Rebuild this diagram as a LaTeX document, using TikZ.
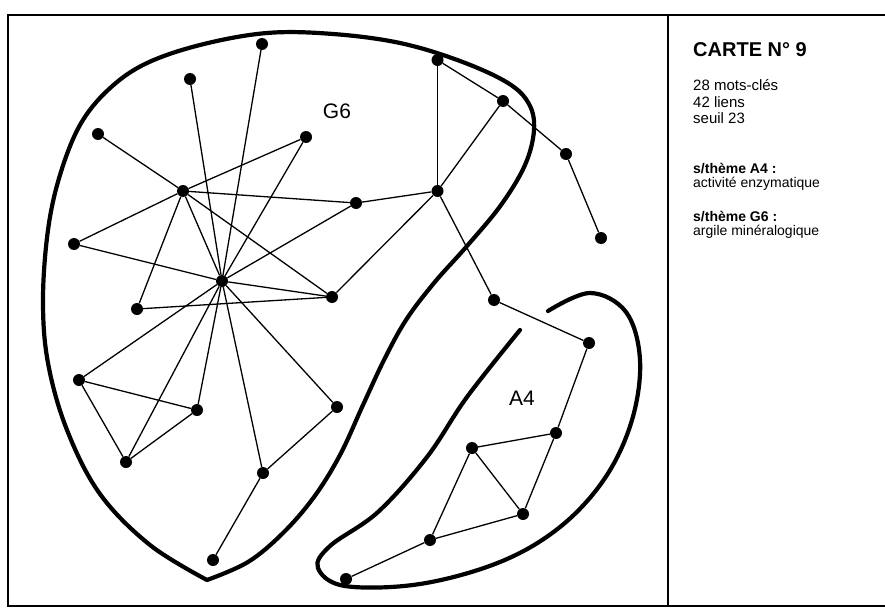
\documentclass[tikz,border=0pt]{standalone}
\usepackage{fontspec}
\setmainfont{Liberation Sans}
\usetikzlibrary{positioning}

\begin{document}
\begin{tikzpicture}[x=1pt, y=-1pt,
  dot/.style={circle, fill=black, inner sep=0pt, minimum size=12pt},
  lien/.style={line width=1.3pt},
  contour/.style={line width=4.2pt, line cap=round, line join=round},
  groupe/.style={font=\fontsize{21}{21}\selectfont},
  ligne/.style={anchor=base west, inner sep=0pt, font=\fontsize{15}{17}\selectfont},
  theme/.style={anchor=base west, inner sep=0pt, font=\fontsize{14}{14}\selectfont}]
  \useasboundingbox (0,0) rectangle (885,607);

  % cadre
  \draw[line width=1.2pt] (885,15) -- (8,15) -- (8,606) -- (885,606);
  \draw[line width=1.2pt] (668,15) -- (668,606);

  % mots-cles
  \node[dot] (hA)  at (183,191) {};
  \node[dot] (hB)  at (222,281) {};
  \node[dot] (n1)  at (262,44)  {};
  \node[dot] (n2)  at (190,79)  {};
  \node[dot] (n3)  at (98,134)  {};
  \node[dot] (n4)  at (306,137) {};
  \node[dot] (n5)  at (356,203) {};
  \node[dot] (n6)  at (437.5,191) {};
  \node[dot] (n7)  at (437.5,60)  {};
  \node[dot] (n8)  at (74,244)  {};
  \node[dot] (n9)  at (332,297) {};
  \node[dot] (n10) at (137,309) {};
  \node[dot] (n11) at (79,380)  {};
  \node[dot] (n12) at (197,410) {};
  \node[dot] (n13) at (337,407) {};
  \node[dot] (n14) at (126,462) {};
  \node[dot] (n15) at (263,473) {};
  \node[dot] (n16) at (213,560) {};
  \node[dot] (n17) at (503,101) {};
  \node[dot] (n18) at (566,154) {};
  \node[dot] (n19) at (601,238) {};
  \node[dot] (n20) at (494,300) {};
  \node[dot] (n21) at (589,343) {};
  \node[dot] (n22) at (556,433) {};
  \node[dot] (n23) at (472,448) {};
  \node[dot] (n24) at (523,514) {};
  \node[dot] (n25) at (430,540) {};
  \node[dot] (n26) at (346,579) {};

  % liens
  \draw[lien] (hA) -- (n3);
  \draw[lien] (hA) -- (n4);
  \draw[lien] (hA) -- (n5);
  \draw[lien] (hA) -- (n8);
  \draw[lien] (hA) -- (n10);
  \draw[lien] (hA) -- (n9);
  \draw[lien] (hA) -- (hB);
  \draw[lien] (hB) -- (n1);
  \draw[lien] (hB) -- (n2);
  \draw[lien] (hB) -- (n4);
  \draw[lien] (hB) -- (n5);
  \draw[lien] (hB) -- (n8);
  \draw[lien] (hB) -- (n9);
  \draw[lien] (hB) -- (n11);
  \draw[lien] (hB) -- (n12);
  \draw[lien] (hB) -- (n13);
  \draw[lien] (hB) -- (n14);
  \draw[lien] (hB) -- (n15);
  \draw[lien] (n10) -- (n9);
  \draw[lien] (n11) -- (n12);
  \draw[lien] (n11) -- (n14);
  \draw[lien] (n14) -- (n12);
  \draw[lien] (n13) -- (n15);
  \draw[lien] (n15) -- (n16);
  \draw[lien] (n5) -- (n6);
  \draw[lien] (n6) -- (n7);
  \draw[lien] (n6) -- (n9);
  \draw[lien] (n6) -- (n17);
  \draw[lien] (n6) -- (n20);
  \draw[lien] (n7) -- (n17);
  \draw[lien] (n17) -- (n18);
  \draw[lien] (n18) -- (n19);
  \draw[lien] (n20) -- (n21);
  \draw[lien] (n21) -- (n22);
  \draw[lien] (n22) -- (n23);
  \draw[lien] (n22) -- (n24);
  \draw[lien] (n23) -- (n24);
  \draw[lien] (n23) -- (n25);
  \draw[lien] (n24) -- (n25);
  \draw[lien] (n25) -- (n26);

  % sous-themes
  \draw[contour] plot[smooth, tension=0.6] coordinates {
    (207,580) (150,545) (100,494) (67,430) (48,363) (43,300) (48,230)
    (60,175) (80,125) (108,90) (145,64) (200,45) (267,33) (333,34)
    (400,43) (460,61) (508,83) (529,104) (534,130) (525,165) (501,205)
    (467,246) (434,283) (406,320) (384,360) (363,405) (340,455)
    (314,497) (283,533) (248,562) (207,580)};
  \draw[contour] plot[smooth, tension=0.6] coordinates {
    (548,311) (590,293) (626,312) (640,360) (632,420) (605,478)
    (560,527) (500,562) (420,584) (345,586) (318,568) (330,546)
    (378,512) (427,457) (467,397) (520,330)};

  \node[groupe] (g6) at (337,111) {G6};
  \node[groupe] (a4) at (522,398) {A4};

  % legende
  \node[anchor=base west, inner sep=0pt, font=\fontsize{20}{20}\selectfont\bfseries]
    (titre) at (693,57) {CARTE N° 9};
  \node[below=34pt of titre.base west, ligne] (mots)  {28 mots-clés};
  \node[below=16pt of mots.base west, ligne]  (liens) {42 liens};
  \node[below=16pt of liens.base west, ligne] (seuil) {seuil 23};
  \node[below=50pt of seuil.base west, theme, font=\fontsize{14}{14}\selectfont\bfseries]
    (thA4) {s/thème A4 :};
  \node[below=14pt of thA4.base west, theme]  (nomA4) {activité enzymatique};
  \node[below=34pt of nomA4.base west, theme, font=\fontsize{14}{14}\selectfont\bfseries]
    (thG6) {s/thème G6 :};
  \node[below=14pt of thG6.base west, theme]  (nomG6) {argile minéralogique};
\end{tikzpicture}
\end{document}
